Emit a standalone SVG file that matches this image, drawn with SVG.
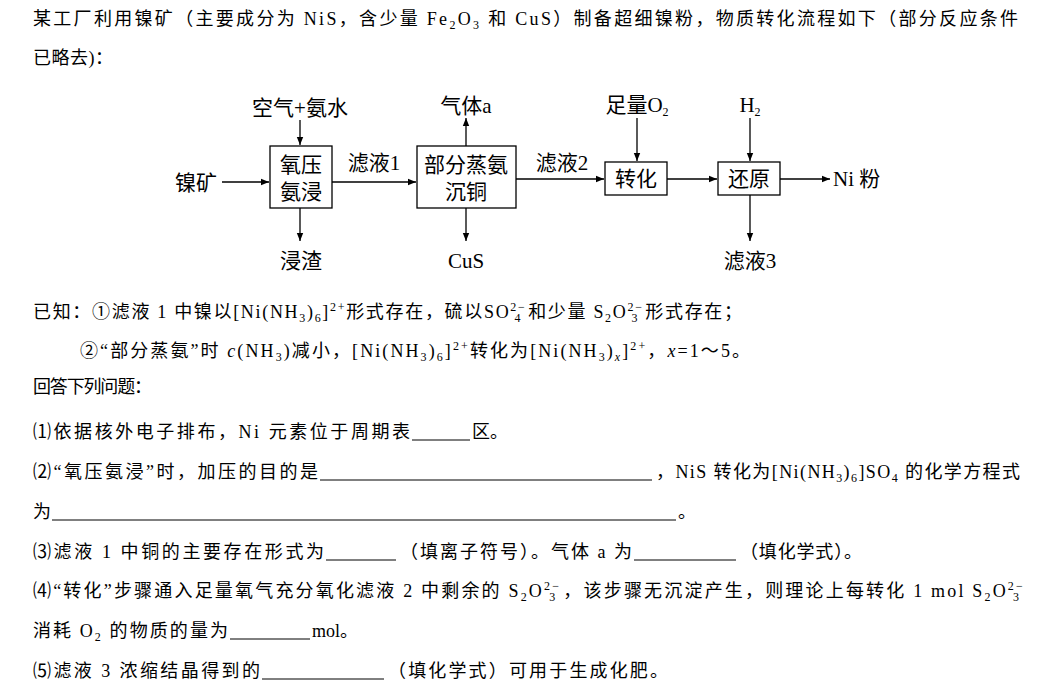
<svg xmlns="http://www.w3.org/2000/svg" width="1047" height="695" viewBox="0 0 1047 695">
<defs>
<marker id="ah" viewBox="0 0 10 10" refX="10" refY="5" markerWidth="8" markerHeight="8" orient="auto" markerUnits="userSpaceOnUse"><path d="M0,1 L10,5 L0,9 z" fill="#000"/></marker>
<style>
text{font-family:"Liberation Serif","Noto Sans CJK SC",serif;font-size:18px;fill:#000}
.d{font-size:21px}
.box{fill:#fff;stroke:#000;stroke-width:1.3}
.c line{stroke:#000;stroke-width:1.3;marker-end:url(#ah)}
.u{stroke:#000;stroke-width:1}
.s{font-size:12px}
</style>
</defs>
<rect width="1047" height="695" fill="#fff"/>
<text x="33" y="25" textLength="985" lengthAdjust="spacing">某工厂利用镍矿（主要成分为 NiS，含少量 Fe<tspan class="s" dy="4">2</tspan><tspan dy="-4">O</tspan><tspan class="s" dy="4">3</tspan><tspan dy="-4"> 和 CuS）制备超细镍粉，物质转化流程如下（部分反应条件</tspan></text>
<text x="33" y="64" textLength="80" lengthAdjust="spacing">已略去)：</text>

<g id="n-ore"><text class="d" x="175" y="190">镍矿</text></g>
<g id="n-air"><text class="d" x="300" y="115" text-anchor="middle">空气+氨水</text></g>
<g id="n-box1"><rect class="box" x="270" y="146" width="62" height="62"/><text class="d" x="301" y="172" text-anchor="middle">氧压</text><text class="d" x="301" y="199" text-anchor="middle">氨浸</text></g>
<g id="n-slag"><text class="d" x="301" y="268" text-anchor="middle">浸渣</text></g>
<g id="n-l1"><text class="d" x="374" y="170" text-anchor="middle">滤液1</text></g>
<g id="n-box2"><rect class="box" x="417" y="146" width="99" height="62"/><text class="d" x="466" y="172" text-anchor="middle">部分蒸氨</text><text class="d" x="466" y="199" text-anchor="middle">沉铜</text></g>
<g id="n-gas"><text class="d" x="466" y="113" text-anchor="middle">气体a</text></g>
<g id="n-cus"><text class="d" x="466" y="268" text-anchor="middle">CuS</text></g>
<g id="n-l2"><text class="d" x="562" y="170" text-anchor="middle">滤液2</text></g>
<g id="n-box3"><rect class="box" x="605" y="162" width="62" height="33"/><text class="d" x="636" y="186" text-anchor="middle">转化</text></g>
<g id="n-o2"><text class="d" x="637" y="112" text-anchor="middle">足量O<tspan class="s" dy="4">2</tspan></text></g>
<g id="n-box4"><rect class="box" x="718" y="162" width="62" height="33"/><text class="d" x="749" y="186" text-anchor="middle">还原</text></g>
<g id="n-h2"><text class="d" x="750" y="112" text-anchor="middle">H<tspan class="s" dy="4">2</tspan></text></g>
<g id="n-l3"><text class="d" x="750" y="268" text-anchor="middle">滤液3</text></g>
<g id="n-ni"><text class="d" x="833" y="186">Ni 粉</text></g>

<g class="c" id="connectors">
<line x1="222" y1="182" x2="269" y2="182"/>
<line x1="300" y1="120" x2="300" y2="145"/>
<line x1="300" y1="208" x2="300" y2="241"/>
<line x1="332" y1="182" x2="416" y2="182"/>
<line x1="466" y1="146" x2="466" y2="118"/>
<line x1="466" y1="208" x2="466" y2="241"/>
<line x1="516" y1="179" x2="604" y2="179"/>
<line x1="637" y1="118" x2="637" y2="161"/>
<line x1="667" y1="179" x2="717" y2="179"/>
<line x1="750" y1="118" x2="750" y2="161"/>
<line x1="750" y1="195" x2="750" y2="241"/>
<line x1="780" y1="179" x2="830" y2="179"/>
</g>

<text x="33" y="318" textLength="709" lengthAdjust="spacing">已知：①滤液 1 中镍以[Ni(NH<tspan class="s" dy="4">3</tspan><tspan dy="-4">)</tspan><tspan class="s" dy="4">6</tspan><tspan dy="-4">]</tspan><tspan class="s" dy="-7">2+</tspan><tspan dy="7">形式存在，硫以SO</tspan><tspan class="s" dy="-7">2−</tspan><tspan class="s" dx="-12" dy="11">4</tspan><tspan dx="6" dy="-4">和少量 S</tspan><tspan class="s" dy="4">2</tspan><tspan dy="-4">O</tspan><tspan class="s" dy="-7">2−</tspan><tspan class="s" dx="-12" dy="11">3</tspan><tspan dx="6" dy="-4">形式存在；</tspan></text>
<text x="80" y="357" textLength="670" lengthAdjust="spacing">②“部分蒸氨”时 <tspan font-style="italic">c</tspan>(NH<tspan class="s" dy="4">3</tspan><tspan dy="-4">)减小，[Ni(NH</tspan><tspan class="s" dy="4">3</tspan><tspan dy="-4">)</tspan><tspan class="s" dy="4">6</tspan><tspan dy="-4">]</tspan><tspan class="s" dy="-7">2+</tspan><tspan dy="7">转化为[Ni(NH</tspan><tspan class="s" dy="4">3</tspan><tspan dy="-4">)</tspan><tspan class="s" dy="4" font-style="italic">x</tspan><tspan dy="-4">]</tspan><tspan class="s" dy="-7">2+</tspan><tspan dy="7">，</tspan><tspan font-style="italic">x</tspan>=1～5。</text>
<text x="33" y="393" textLength="119" lengthAdjust="spacing">回答下列问题：</text>
<text x="33" y="438" textLength="377" lengthAdjust="spacing">⑴依据核外电子排布，Ni 元素位于周期表</text><line class="u" x1="412" y1="440" x2="470" y2="440"/><text x="472" y="438">区。</text>
<text x="33" y="478" textLength="285" lengthAdjust="spacing">⑵“氧压氨浸”时，加压的目的是</text><line class="u" x1="320" y1="480" x2="652" y2="480"/><text x="656" y="478" textLength="364" lengthAdjust="spacing">，NiS 转化为[Ni(NH<tspan class="s" dy="4">3</tspan><tspan dy="-4">)</tspan><tspan class="s" dy="4">6</tspan><tspan dy="-4">]SO</tspan><tspan class="s" dy="4">4</tspan><tspan dy="-4"> 的化学方程式</tspan></text>
<text x="33" y="518">为</text><line class="u" x1="52" y1="520" x2="676" y2="520"/><text x="678" y="518">。</text>
<text x="33" y="558" textLength="291" lengthAdjust="spacing">⑶滤液 1 中铜的主要存在形式为</text><line class="u" x1="326" y1="560" x2="396" y2="560"/><text x="400" y="558" textLength="232" lengthAdjust="spacing">（填离子符号）。气体 a 为</text><line class="u" x1="634" y1="560" x2="736" y2="560"/><text x="740" y="558" textLength="122" lengthAdjust="spacing">（填化学式）。</text>
<text x="33" y="597" textLength="992" lengthAdjust="spacing">⑷“转化”步骤通入足量氧气充分氧化滤液 2 中剩余的 S<tspan class="s" dy="4">2</tspan><tspan dy="-4">O</tspan><tspan class="s" dy="-7">2−</tspan><tspan class="s" dx="-12" dy="11">3</tspan><tspan dx="6" dy="-4">，该步骤无沉淀产生，则理论上每转化 1 mol S</tspan><tspan class="s" dy="4">2</tspan><tspan dy="-4">O</tspan><tspan class="s" dy="-7">2−</tspan><tspan class="s" dx="-12" dy="11">3</tspan></text>
<text x="33" y="637" textLength="195" lengthAdjust="spacing">消耗 O<tspan class="s" dy="4">2</tspan><tspan dy="-4"> 的物质的量为</tspan></text><line class="u" x1="230" y1="639" x2="310" y2="639"/><text x="312" y="637">mol。</text>
<text x="33" y="677" textLength="227" lengthAdjust="spacing">⑸滤液 3 浓缩结晶得到的</text><line class="u" x1="262" y1="679" x2="384" y2="679"/><text x="388" y="677" textLength="280" lengthAdjust="spacing">（填化学式）可用于生成化肥。</text>
</svg>
